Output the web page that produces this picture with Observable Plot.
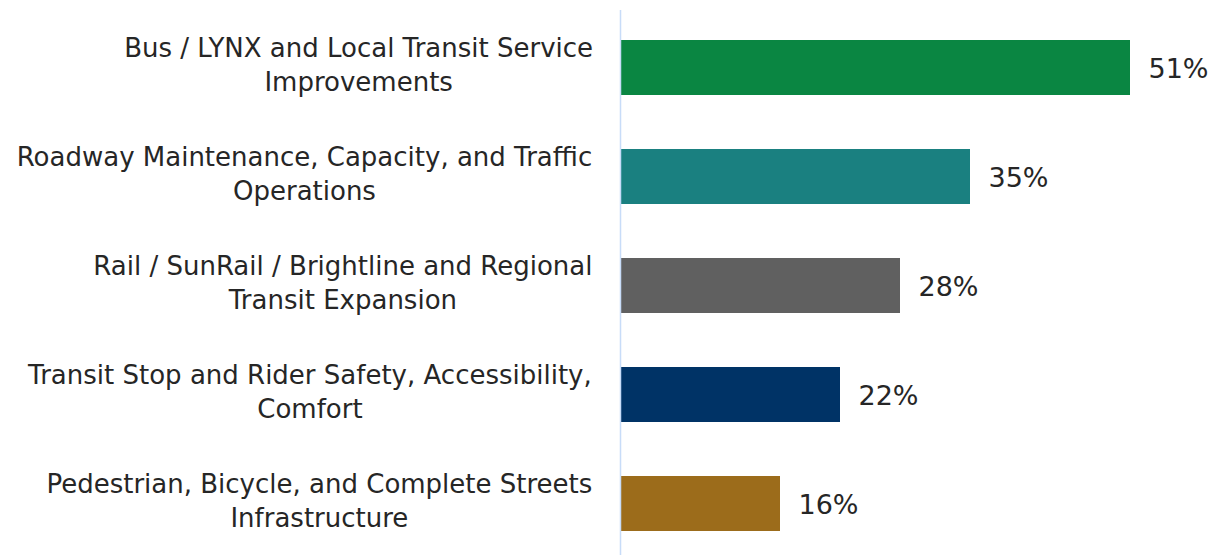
<!DOCTYPE html>
<html><head><meta charset="utf-8">
<script src="https://cdn.jsdelivr.net/npm/d3@7"></script>
<script src="https://cdn.jsdelivr.net/npm/@observablehq/plot@0.6"></script>
<style>body{margin:0;background:#fff}</style>
</head><body><div id="chart"></div>
<script>
const categories = [
  "Bus / LYNX and Local Transit Service\nImprovements",
  "Roadway Maintenance, Capacity, and Traffic\nOperations",
  "Rail / SunRail / Brightline and Regional\nTransit Expansion",
  "Transit Stop and Rider Safety, Accessibility,\nComfort",
  "Pedestrian, Bicycle, and Complete Streets\nInfrastructure"
];
const values = [51, 35, 28, 22, 16];
const valueLabels = ["51%", "35%", "28%", "22%", "16%"];
const colors = ["#0a8642", "#1a8080", "#606060", "#003366", "#9c6c1b"];

const FONT = "'DejaVu Sans', sans-serif";
const FS = 26;
const LS = 0.3;
const data = categories.map((c, i) => ({category: c, value: values[i], label: valueLabels[i], color: colors[i]}));

const ctx = document.createElement("canvas").getContext("2d");
ctx.font = `${FS}px ${FONT}`;
const labelMarks = data.map(d => {
  const w = Math.max(...d.category.split("\n").map(s => ctx.measureText(s).width + s.length * LS));
  return Plot.text([d], {
    y: "category", text: "category", frameAnchor: "left", textAnchor: "middle",
    dx: -22 - w / 2, dy: -5, lineHeight: 34 / FS, fontSize: FS, fill: "#262626",
    style: {letterSpacing: `${LS}px`}
  });
});

const chart = Plot.plot({
  width: 1214, height: 555,
  marginLeft: 620, marginRight: 4, marginTop: 38, marginBottom: 23,
  style: {fontFamily: FONT, background: "#fff"},
  x: {domain: [0, 59], axis: null},
  y: {domain: categories, paddingInner: 0.5, paddingOuter: 0, axis: null},
  marks: [
    Plot.barX(data, {x: "value", y: "category", fill: "color"}),
    Plot.ruleX([0], {stroke: "#c8dcf8", strokeWidth: 1.5, insetTop: -28, insetBottom: -23}),
    Plot.text(data, {x: "value", y: "category", text: "label", dx: 18, dy: 1, textAnchor: "start", fontSize: 27, fill: "#262626"}),
    ...labelMarks
  ]
});
document.getElementById("chart").appendChild(chart);
</script></body></html>
